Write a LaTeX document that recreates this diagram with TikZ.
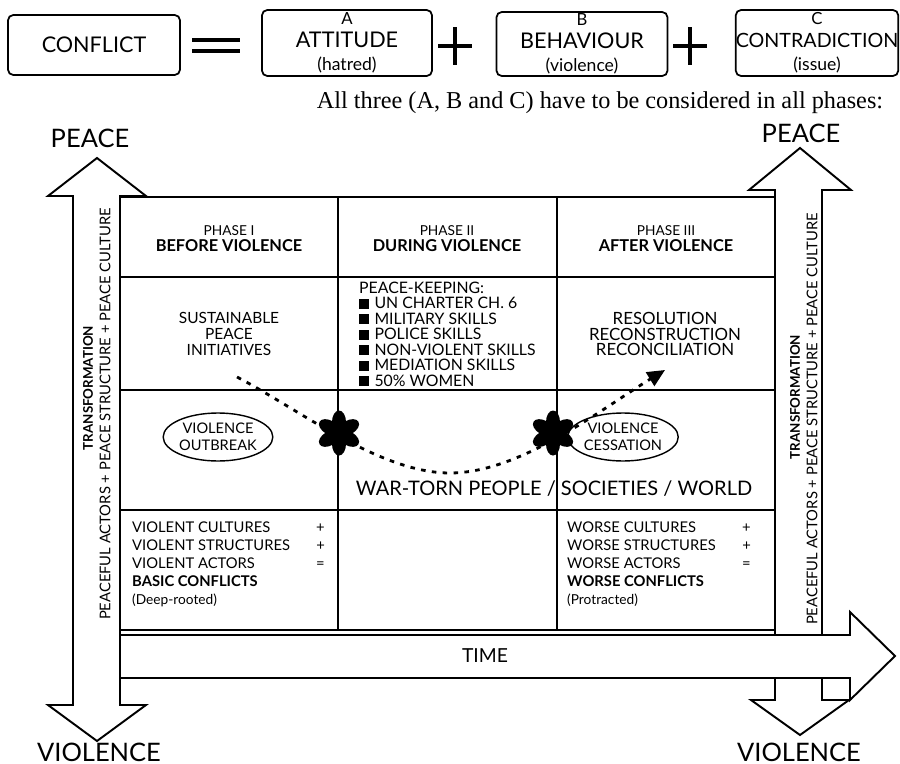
\documentclass[tikz,border=0pt]{standalone}
\usepackage{fontspec}
\setmainfont{Lato}
\newfontfamily\noteserif{Liberation Serif}
\usetikzlibrary{arrows.meta, shapes.geometric, positioning}
\newcommand{\bsq}{\rule{0.62em}{0.62em}\hspace{0.35em}}

\begin{document}
\begin{tikzpicture}[x=0.02cm, y=-0.02cm,
    topbox/.style={draw, rounded corners=3pt, line width=1pt, align=center, inner sep=0pt,
                   font=\fontsize{12.3}{13}\selectfont},
    bar/.style={line width=2.4pt},
    outline/.style={draw, fill=white, line width=1.1pt, line join=miter},
    gridline/.style={line width=1.1pt},
    cell/.style={align=center, font=\fontsize{8.8}{9}\selectfont},
    listcell/.style={align=left, font=\fontsize{9}{8.8}\selectfont, anchor=west},
    bubble/.style={ellipse, draw, line width=0.8pt, minimum width=1.68cm, minimum height=0.96cm,
                   inner sep=0pt, align=center, font=\fontsize{8.3}{9.5}\selectfont},
    endlabel/.style={font=\fontsize{14.5}{16}\selectfont},
    sidetext/.style={rotate=90, font=\fontsize{8.4}{9}\selectfont},
    pathdots/.style={line width=1.6pt, dash pattern=on 2.6pt off 3.6pt}
]
\useasboundingbox (0,0) rectangle (900,764);

% equation row
\node[topbox, minimum width=3.44cm, minimum height=1.2cm] (conflict) at (94,45) {CONFLICT};
\node[topbox, minimum width=3.4cm, minimum height=1.32cm] (attitude) at (347,43)
    {{\fontsize{9.5}{10}\selectfont A}\\ATTITUDE\\{\fontsize{10}{11}\selectfont (hatred)}};
\node[topbox, minimum width=3.42cm, minimum height=1.28cm] (behaviour) at (582,44)
    {{\fontsize{9.5}{10}\selectfont B}\\BEHAVIOUR\\{\fontsize{10}{11}\selectfont (violence)}};
\node[topbox, minimum width=3.18cm, minimum height=1.32cm] (contra) at (817,43)
    {{\fontsize{9.5}{10}\selectfont C}\\{\fontsize{11.2}{13}\selectfont CONTRADICTION}\\{\fontsize{10}{11}\selectfont (issue)}};
\draw[bar] (192,40) -- (240,40) (192,51) -- (240,51);
\draw[bar] (438,46) -- (472,46) (455,27) -- (455,65);
\draw[bar] (673,46) -- (707,46) (690,27) -- (690,65);
\node[font=\noteserif\fontsize{13.8}{15}\selectfont] (note) at (600,103)
    {All three (A, B and C) have to be considered in all phases:};

% peace -- violence axes
\draw[outline] (97,158) -- (146,196) -- (120,196) -- (120,705) -- (146,705) -- (97,741)
    -- (48,705) -- (73,705) -- (73,196) -- (48,196) -- cycle;
\draw[outline] (800,148) -- (851,190) -- (822,190) -- (822,700) -- (849,700) -- (800,735)
    -- (751,700) -- (775,700) -- (775,190) -- (749,190) -- cycle;
\node[endlabel] (peaceL) at (90,138) {PEACE};
\node[endlabel] (peaceR) at (801,133) {PEACE};
\node[endlabel] (violL) at (99,752) {VIOLENCE};
\node[endlabel] (violR) at (799,752) {VIOLENCE};
\node[sidetext, font=\fontsize{7.6}{8}\selectfont\bfseries] (transL) at (88,388) {TRANSFORMATION};
\node[sidetext] (actorsL) at (105,414) {PEACEFUL ACTORS + PEACE STRUCTURE + PEACE CULTURE};
\node[sidetext, font=\fontsize{7.6}{8}\selectfont\bfseries] (transR) at (795,397) {TRANSFORMATION};
\node[sidetext] (actorsR) at (812,419) {PEACEFUL ACTORS + PEACE STRUCTURE + PEACE CULTURE};

% phase grid
\draw[gridline] (120,197) rectangle (775,630);
\draw[gridline] (120,277) -- (775,277) (120,390) -- (775,390) (120,510) -- (775,510);
\draw[gridline] (338,197) -- (338,630) (557,197) -- (557,630);

% time axis
\draw[outline] (120,635) -- (850,635) -- (850,612) -- (895,656) -- (850,700) -- (850,678)
    -- (120,678) -- cycle;
\node[font=\fontsize{11}{12}\selectfont] (time) at (485,656) {TIME};

\node[cell] (ph1) at (229,239) {{\fontsize{7.8}{8}\selectfont PHASE I}\\\textbf{\fontsize{9.3}{9}\selectfont BEFORE VIOLENCE}};
\node[cell] (ph2) at (447,239) {{\fontsize{7.8}{8}\selectfont PHASE II}\\\textbf{\fontsize{9.3}{9}\selectfont DURING VIOLENCE}};
\node[cell] (ph3) at (666,239) {{\fontsize{7.8}{8}\selectfont PHASE III}\\\textbf{\fontsize{9.3}{9}\selectfont AFTER VIOLENCE}};

\node[cell] (sustain) at (229,334) {SUSTAINABLE\\PEACE\\INITIATIVES};
\node[listcell] (keeping) at (353,334) {PEACE-KEEPING:\\\bsq UN CHARTER CH. 6\\\bsq MILITARY SKILLS\\
    \bsq POLICE SKILLS\\\bsq NON-VIOLENT SKILLS\\\bsq MEDIATION SKILLS\\\bsq 50\% WOMEN};
\node[cell, font=\fontsize{9.6}{9}\selectfont] (resolve) at (665,334) {RESOLUTION\\RECONSTRUCTION\\RECONCILIATION};

\node[bubble] (outbreak) at (218,437) {VIOLENCE\\OUTBREAK};
\node[bubble] (cessation) at (623,437) {VIOLENCE\\CESSATION};
\node[font=\fontsize{11.4}{13}\selectfont] (wartorn) at (554,489) {WAR-TORN PEOPLE / SOCIETIES / WORLD};

\node[listcell, font=\fontsize{8.4}{10.2}\selectfont] (basic) at (126,564)
    {\makebox[3.68cm][l]{VIOLENT CULTURES}+\\\makebox[3.68cm][l]{VIOLENT STRUCTURES}+\\
     \makebox[3.68cm][l]{VIOLENT ACTORS}=\\\textbf{BASIC CONFLICTS}\\{\fontsize{7.8}{9}\selectfont (Deep-rooted)}};
\node[listcell, font=\fontsize{8.4}{10.2}\selectfont] (worse) at (561,564)
    {\makebox[3.5cm][l]{WORSE CULTURES}+\\\makebox[3.5cm][l]{WORSE STRUCTURES}+\\
     \makebox[3.5cm][l]{WORSE ACTORS}=\\\textbf{WORSE CONFLICTS}\\{\fontsize{7.8}{9}\selectfont (Protracted)}};

% violence path
\coordinate (dstart) at (237,377);
\coordinate (dlow) at (450,473);
\coordinate (dend) at (665,370);
\draw[pathdots, -{Triangle[length=10pt,width=9pt]}] (dstart) .. controls (300,410) and (380,473) .. (dlow)
    .. controls (520,473) and (600,410) .. (dend);
\coordinate (burst1) at (339,433);
\coordinate (burst2) at (553,433);
\foreach \b in {burst1,burst2}{
  \fill (\b) circle (8);
  \foreach \a in {30,90,...,330}
    \fill[rotate around={\a:(\b)}] (\b) ++(11,0) ellipse (11.5 and 7);
}
\end{tikzpicture}
\end{document}
